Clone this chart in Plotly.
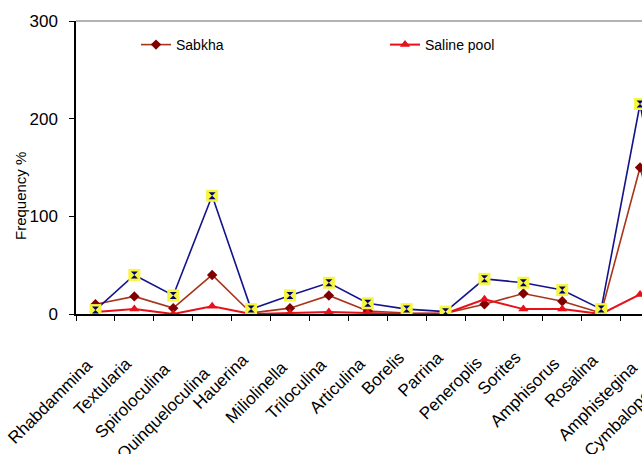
import plotly.graph_objects as go

# ---- data ----
categories = ["Rhabdammina", "Textularia", "Spiroloculina", "Quinqueloculina", "Hauerina",
              "Miliolinella", "Triloculina", "Articulina", "Borelis", "Parrina",
              "Peneroplis", "Sorites", "Amphisorus", "Rosalina", "Amphistegina",
              "Cymbaloporetta"]
sabkha = [10, 18, 6, 40, 1, 6, 19, 3, 1, 0.7, 10, 21, 13, 1, 150, 5]
saline_pool = [2, 5, 0, 8, 0, 1, 2, 1, 0, 0.5, 15, 5, 5, 0, 20, 3]
total = [4, 40, 19, 121, 5, 19, 32, 11, 5, 2.4, 36, 32, 24.5, 5, 215, 8]
y_tick_vals = [0, 100, 200, 300]

# ---- layout geometry ----
FIG_W, FIG_H = 642, 454
M_L, M_R, M_T, M_B = 76, 0, 21, 140
CAT_PX = 38.9
plot_w = FIG_W - M_L - M_R
x_range = [-0.5, -0.5 + plot_w / CAT_PX]
FONT = "Arial, Liberation Sans, sans-serif"

xs = list(range(len(categories)))

fig = go.Figure()
fig.add_trace(go.Scatter(
    x=xs, y=sabkha, name="Sabkha", mode="lines+markers",
    line=dict(color="#A8341C", width=1.6),
    marker=dict(symbol="diamond", size=8, color="#800000", line=dict(width=0)),
))
fig.add_trace(go.Scatter(
    x=xs, y=saline_pool, name="Saline pool", mode="lines+markers",
    line=dict(color="#E8101A", width=2),
    marker=dict(symbol="triangle-up", size=9, color="#E8101A", line=dict(width=0)),
))
fig.add_trace(go.Scatter(
    x=xs, y=total, name="Total", mode="lines+markers", showlegend=False,
    line=dict(color="#14148A", width=1.6),
    marker=dict(symbol="square", size=12, color="#F6F63C", line=dict(width=0)),
))
fig.add_trace(go.Scatter(
    x=xs, y=total, name="Total", mode="markers", showlegend=False,
    marker=dict(symbol="hourglass", size=7, color="#000070", line=dict(width=0)),
))

# rotated category labels (as annotations so the clipped last one still shows)
span = x_range[1] - x_range[0]
plot_h = FIG_H - M_T - M_B
for i, name in enumerate(categories):
    drop = 18 + 1.9 * len(name)  # longer labels sit a little lower, as in the source
    fig.add_annotation(
        x=(i - x_range[0]) / span + 4 / plot_w, xref="paper",
        y=-drop / plot_h, yref="paper",
        text=name, showarrow=False, textangle=-45,
        xanchor="right", yanchor="top",
        font=dict(family=FONT, size=17, color="black"),
    )

# y-axis title
fig.add_annotation(
    x=-56 / plot_w, xref="paper", y=(plot_h - 175) / plot_h, yref="paper",
    text="Frequency %", showarrow=False, textangle=-90,
    xanchor="center", yanchor="middle",
    font=dict(family=FONT, size=15, color="black"),
)

# top border of the plot area
fig.add_shape(type="line", xref="paper", yref="paper", x0=0, x1=1, y0=1, y1=1,
              line=dict(color="#9A9A9A", width=1.5))

fig.update_layout(
    width=FIG_W, height=FIG_H, autosize=False,
    margin=dict(l=M_L, r=M_R, t=M_T, b=M_B, pad=0, autoexpand=False),
    paper_bgcolor="white", plot_bgcolor="white",
    font=dict(family=FONT, color="black"),
    showlegend=True,
    legend=dict(
        orientation="h", x=(136 - M_L) / plot_w, xanchor="left",
        y=(plot_h - 24) / plot_h, yanchor="middle",
        entrywidth=204, entrywidthmode="pixels",
        font=dict(family=FONT, size=14, color="black"),
        bgcolor="rgba(0,0,0,0)", borderwidth=0,
    ),
    xaxis=dict(
        range=x_range, showgrid=False, zeroline=False,
        showline=True, linecolor="black", linewidth=1.5,
        tickmode="array", tickvals=[i - 0.5 for i in xs],
        ticks="outside", ticklen=5, tickwidth=1, tickcolor="black",
        showticklabels=False,
    ),
    yaxis=dict(
        range=[0, 300], showgrid=False, zeroline=False,
        showline=True, linecolor="black", linewidth=1.5,
        tickmode="array", tickvals=y_tick_vals,
        ticks="outside", ticklen=5, tickwidth=1, tickcolor="black",
        tickfont=dict(family=FONT, size=17, color="black"),
        ticklabelstandoff=8,
    ),
)

fig.write_html(
    "out.html",
    config={"displayModeBar": False},
    post_script="document.body.style.margin='0';document.body.style.overflow='hidden';",
)
